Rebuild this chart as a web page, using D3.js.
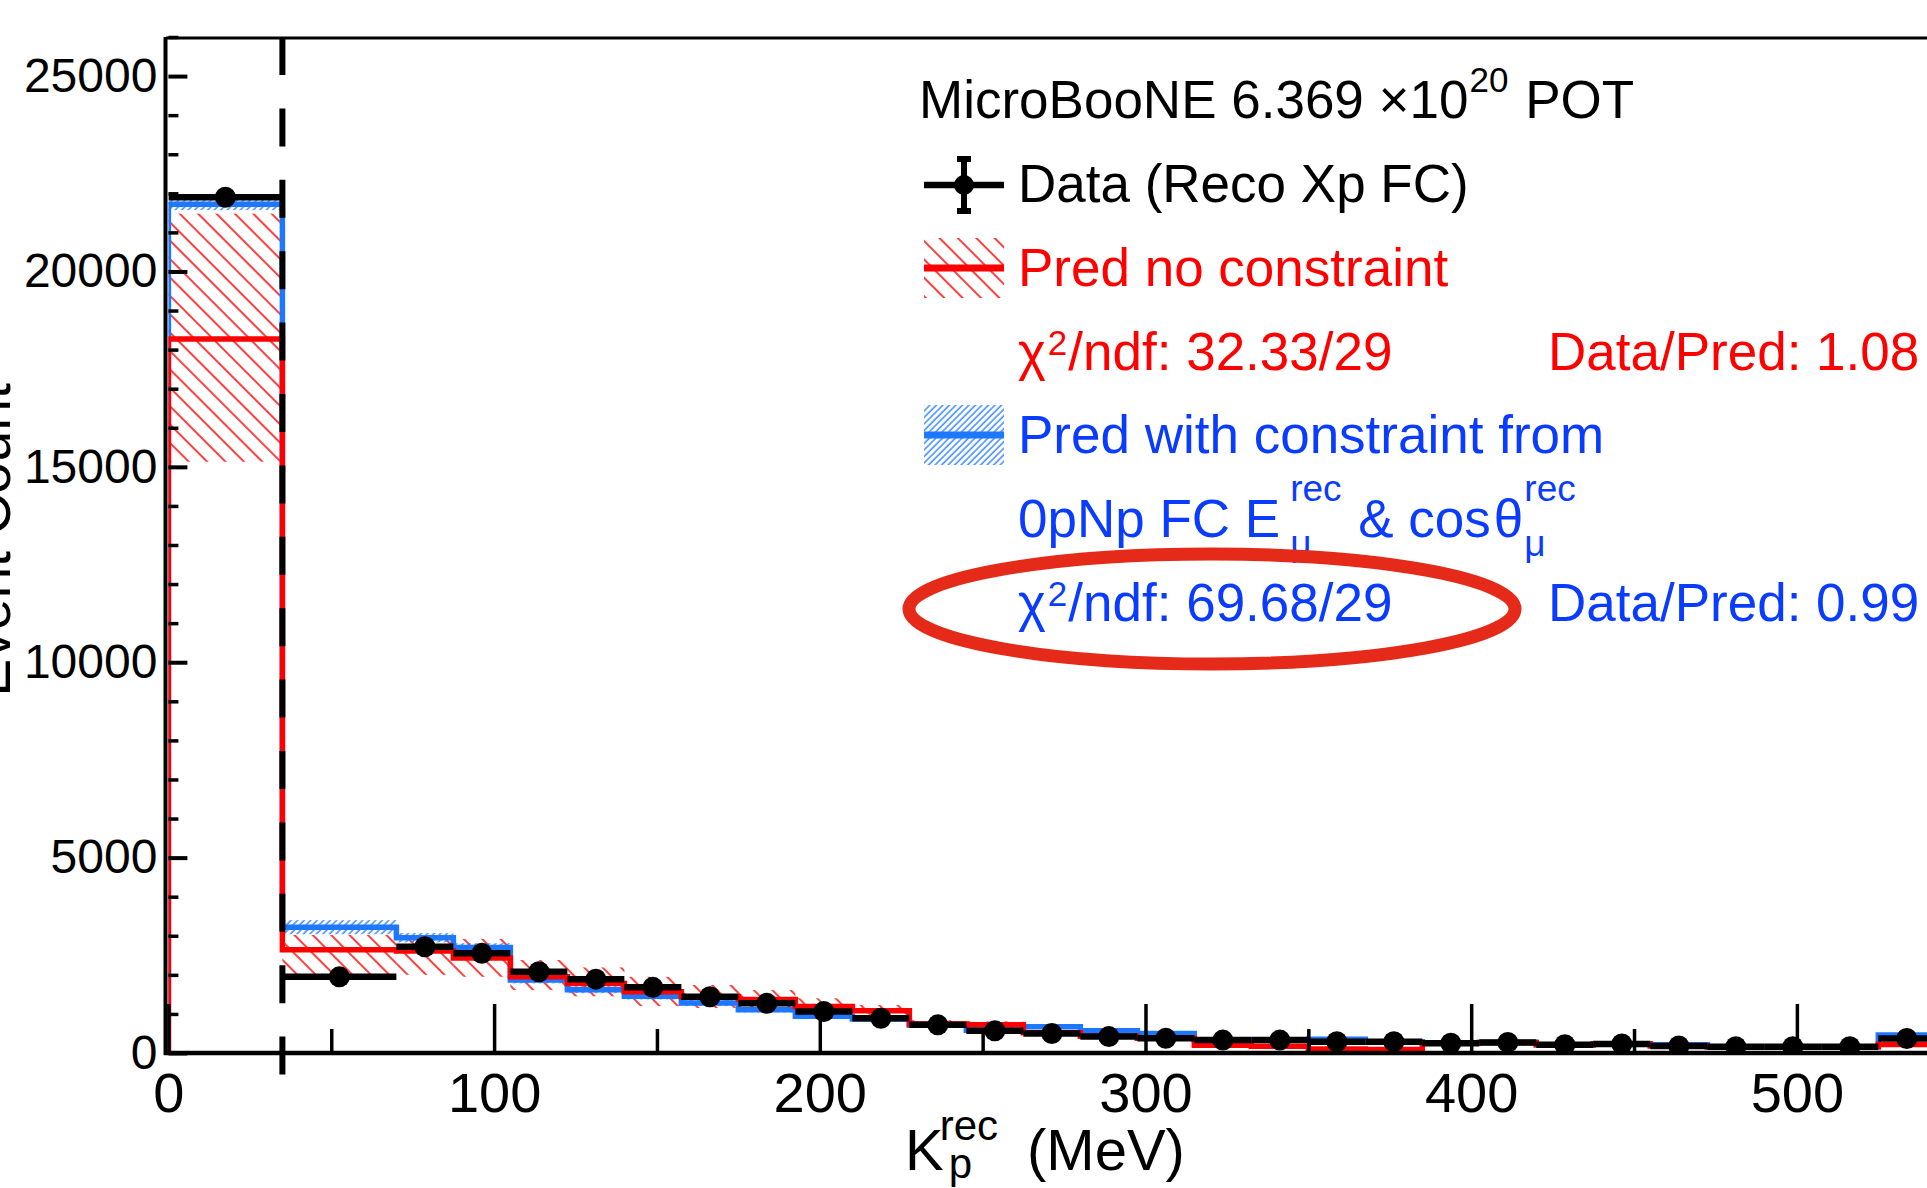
<!DOCTYPE html>
<meta charset="utf-8">
<head>
<style>
 body { margin: 0; background: #fff; }
 svg { display: block; font-family: "Liberation Sans", Arial, Helvetica, sans-serif; }
 text { white-space: pre; }
</style>
</head>
<body>
<script src="https://d3js.org/d3.v7.min.js"></script>
<script>
 // K_p^rec bins (MeV), 29 bins
 const binEdges = [0, 35, 70, 87.5, 105, 122.5, 140, 157.5, 175, 192.5, 210, 227.5, 245, 262.5,
                   280, 297.5, 315, 332.5, 350, 367.5, 385, 402.5, 420, 437.5, 455, 472.5, 490,
                   507.5, 525, 542.5];

 // data (Reco Xp FC)
 const dataCounts = [21900, 1950, 2720, 2550, 2080, 1890, 1680, 1440, 1270, 1060, 890, 720, 570,
                     500, 420, 375, 330, 330, 290, 290, 250, 270, 210, 230, 180, 160, 160, 160, 370];

 // prediction, no constraint (red) and its error band
 const predNoCons   = [18270, 2640, 2610, 2430, 1950, 1780, 1570, 1440, 1370, 1190, 1080, 740, 720,
                       520, 430, 380, 200, 170, 100, 90, 250, 270, 210, 230, 180, 160, 160, 160, 220];
 const predNoConsLo = [15130, 1950, 2000, 1950, 1610, 1450, 1200, 1150, 1130, 980, 930, 640, 630,
                       450, 370, 330, 160, 135, 75, 65, 220, 240, 185, 205, 155, 135, 135, 135, 180];
 const predNoConsHi = [21480, 3020, 2960, 2920, 2380, 2190, 1950, 1740, 1610, 1400, 1230, 840, 810,
                       590, 490, 430, 240, 205, 125, 115, 280, 300, 235, 255, 205, 185, 185, 185, 260];

 // prediction with constraint (blue) and its error
 const predCons    = [21720, 3220, 2950, 2700, 1870, 1620, 1450, 1280, 1110, 940, 870, 710, 580,
                      670, 570, 500, 330, 330, 350, 290, 250, 270, 210, 230, 210, 160, 160, 160, 460];
 const predConsErr = [150, 180, 120, 110, 90, 90, 80, 80, 70, 60, 50, 45, 40, 40, 35, 30, 25, 25,
                      25, 20, 15, 15, 15, 15, 15, 15, 15, 15, 30];

 const xMajor = [0, 100, 200, 300, 400, 500];
 const xMinor = [50, 150, 250, 350, 450];
 const yMajor = [0, 5000, 10000, 15000, 20000, 25000];
 const cutLine = 35;

 const RED = "#ff0000", BLUE = "#1e78ff", BLUE_TXT = "#0a3cff";

 const W = 1927, H = 1188;
 const x = d3.scaleLinear().domain([0, 542.5]).range([168.4, 1935.3]);
 const y = d3.scaleLinear().domain([0, 26000]).range([1053, 37]);

 const svg = d3.select("body").append("svg").attr("width", W).attr("height", H);
 const defs = svg.append("defs");

 defs.append("pattern").attr("id", "hatchRed").attr("patternUnits", "userSpaceOnUse")
     .attr("width", 13).attr("height", 13).attr("patternTransform", "rotate(-45)")
     .append("line").attr("x1", 2).attr("y1", 0).attr("x2", 2).attr("y2", 13)
     .attr("stroke", RED).attr("stroke-width", 1.5);
 defs.append("pattern").attr("id", "hatchBlue").attr("patternUnits", "userSpaceOnUse")
     .attr("width", 4.6).attr("height", 4.6).attr("patternTransform", "rotate(45)")
     .append("line").attr("x1", 1).attr("y1", 0).attr("x2", 1).attr("y2", 4.6)
     .attr("stroke", BLUE).attr("stroke-width", 1.3);
 defs.append("clipPath").attr("id", "frame")
     .append("rect").attr("x", x(0)).attr("y", y(26000))
     .attr("width", x(542.5) - x(0)).attr("height", y(0) - y(26000));

 const bins = binEdges.slice(0, -1).map((lo, i) => ({ lo: lo, hi: binEdges[i + 1], i: i }));

 function stepPoints(vals) {
     const pts = [[binEdges[0], 0]];
     vals.forEach((v, i) => { pts.push([binEdges[i], v]); pts.push([binEdges[i + 1], v]); });
     pts.push([binEdges[binEdges.length - 1], 0]);
     return pts;
 }
 const line = d3.line().x(d => x(d[0])).y(d => y(d[1]));

 // left axis line goes below the histograms
 svg.append("line").attr("x1", 165.5).attr("x2", 165.5).attr("y1", 37).attr("y2", 1055)
    .attr("stroke", "#000").attr("stroke-width", 4);

 const plot = svg.append("g").attr("clip-path", "url(#frame)");

 plot.append("g").selectAll("rect").data(bins).join("rect")
     .attr("x", d => x(d.lo)).attr("width", d => x(d.hi) - x(d.lo))
     .attr("y", d => y(predNoConsHi[d.i]))
     .attr("height", d => y(predNoConsLo[d.i]) - y(predNoConsHi[d.i]))
     .attr("fill", "url(#hatchRed)");

 plot.append("g").selectAll("rect").data(bins).join("rect")
     .attr("x", d => x(d.lo)).attr("width", d => x(d.hi) - x(d.lo))
     .attr("y", d => y(predCons[d.i] + predConsErr[d.i]))
     .attr("height", d => y(predCons[d.i] - predConsErr[d.i]) - y(predCons[d.i] + predConsErr[d.i]))
     .attr("fill", "url(#hatchBlue)");

 plot.append("path").attr("d", line(stepPoints(predCons)))
     .attr("fill", "none").attr("stroke", BLUE).attr("stroke-width", 5.5);
 plot.append("path").attr("d", line(stepPoints(predNoCons)))
     .attr("fill", "none").attr("stroke", RED).attr("stroke-width", 5.5);

 plot.append("g").selectAll("line").data(bins).join("line")
     .attr("x1", d => x(d.lo)).attr("x2", d => x(d.hi))
     .attr("y1", d => y(dataCounts[d.i])).attr("y2", d => y(dataCounts[d.i]))
     .attr("stroke", "#000").attr("stroke-width", 6.5);
 plot.append("g").selectAll("circle").data(bins).join("circle")
     .attr("cx", d => x((d.lo + d.hi) / 2)).attr("cy", d => y(dataCounts[d.i]))
     .attr("r", 10.5).attr("fill", "#000");

 // frame
 svg.append("line").attr("x1", 164).attr("x2", 1935).attr("y1", 1053).attr("y2", 1053)
    .attr("stroke", "#000").attr("stroke-width", 4.5);
 svg.append("line").attr("x1", 166).attr("x2", 1935).attr("y1", 38).attr("y2", 38)
    .attr("stroke", "#000").attr("stroke-width", 3);
 svg.append("line").attr("x1", 1935).attr("x2", 1935).attr("y1", 37).attr("y2", 1053)
    .attr("stroke", "#000").attr("stroke-width", 3);

 // y axis
 const yAx = svg.append("g").attr("transform", `translate(${x(0)},0)`)
     .call(d3.axisLeft(y).tickValues(yMajor).tickSize(-19).tickPadding(11).tickFormat(d3.format("d")));
 yAx.select(".domain").remove();
 yAx.selectAll("line").attr("stroke-width", 4);
 yAx.selectAll("text").attr("font-size", 48).attr("font-family", null).attr("fill", "#000");
 const yMin = svg.append("g").attr("transform", `translate(${x(0)},0)`)
     .call(d3.axisLeft(y).tickValues(d3.range(0, 26001, 1000).filter(v => v % 5000)).tickSize(-10).tickFormat(""));
 yMin.select(".domain").remove();
 yMin.selectAll("line").attr("stroke-width", 3.5);

 // x axis
 const xAx = svg.append("g").attr("transform", `translate(0,${y(0)})`)
     .call(d3.axisBottom(x).tickValues(xMajor).tickSize(-49).tickPadding(19));
 xAx.select(".domain").remove();
 xAx.selectAll("line").attr("stroke-width", 3.5);
 xAx.selectAll("text").attr("font-size", 56).attr("font-family", null).attr("fill", "#000");
 const xMin = svg.append("g").attr("transform", `translate(0,${y(0)})`)
     .call(d3.axisBottom(x).tickValues(xMinor).tickSize(-24).tickFormat(""));
 xMin.select(".domain").remove();
 xMin.selectAll("line").attr("stroke-width", 3.5);

 // 35 MeV cut line
 svg.append("line").attr("x1", x(cutLine)).attr("x2", x(cutLine)).attr("y1", 37).attr("y2", 1078)
    .attr("stroke", "#000").attr("stroke-width", 6).attr("stroke-dasharray", "38 33.4");

 // text with super/subscripts
 function rich(g, x0, y0, pieces, color) {
     let cx = x0, stackStart = x0, stackEnd = x0;
     pieces.forEach(p => {
         const start = p.stack ? stackStart + (p.gap || 0) : cx + (p.gap || 0);
         const t = g.append("text").attr("x", start).attr("y", y0 + (p.dy || 0))
                    .attr("font-size", p.fs).attr("fill", color).text(p.t);
         const w = t.node().getComputedTextLength();
         if (!p.stack) { stackStart = start; stackEnd = start + w; }
         else { stackEnd = Math.max(stackEnd, start + w); }
         cx = stackEnd;
     });
 }

 const leg = svg.append("g");
 const rowY = [118, 202, 286, 370, 453, 537, 621];
 const tx = 1018, tx2 = 1548;

 rich(leg, 919, rowY[0], [{ t: "MicroBooNE 6.369 ×10", fs: 53 },
                          { t: "20", fs: 35, dy: -26, gap: 1 },
                          { t: " POT", fs: 53, gap: 2 }], "#000");
 rich(leg, tx, rowY[1], [{ t: "Data (Reco Xp FC)", fs: 53 }], "#000");
 rich(leg, tx, rowY[2], [{ t: "Pred no constraint", fs: 53 }], RED);
 rich(leg, tx, rowY[3], [{ t: "χ", fs: 53 }, { t: "2", fs: 35, dy: -15, gap: 2 },
                         { t: "/ndf: 32.33/29", fs: 53, gap: 1 }], RED);
 rich(leg, tx2, rowY[3], [{ t: "Data/Pred: 1.08", fs: 53 }], RED);
 rich(leg, tx, rowY[4], [{ t: "Pred with constraint from", fs: 53 }], BLUE_TXT);
 rich(leg, tx, rowY[5], [{ t: "0pNp FC E", fs: 53 },
                         { t: "rec", fs: 37, dy: -36, gap: 10 },
                         { t: "μ", fs: 37, dy: 19, stack: true },
                         { t: " & cos", fs: 53, gap: 2 },
                         { t: "θ", fs: 53, gap: 3 },
                         { t: "rec", fs: 37, dy: -36, gap: 1 },
                         { t: "μ", fs: 37, dy: 19, stack: true }], BLUE_TXT);
 rich(leg, tx, rowY[6], [{ t: "χ", fs: 53 }, { t: "2", fs: 35, dy: -15, gap: 2 },
                         { t: "/ndf: 69.68/29", fs: 53, gap: 1 }], BLUE_TXT);
 rich(leg, tx2, rowY[6], [{ t: "Data/Pred: 0.99", fs: 53 }], BLUE_TXT);

 // legend symbols
 const sx0 = 924, sx1 = 1004, sxm = 964;
 leg.append("line").attr("x1", sx0).attr("x2", sx1).attr("y1", 185).attr("y2", 185)
    .attr("stroke", "#000").attr("stroke-width", 6.5);
 leg.append("line").attr("x1", sxm).attr("x2", sxm).attr("y1", 157).attr("y2", 213)
    .attr("stroke", "#000").attr("stroke-width", 6);
 leg.append("rect").attr("x", sxm - 7).attr("y", 156).attr("width", 14).attr("height", 6);
 leg.append("rect").attr("x", sxm - 7).attr("y", 208).attr("width", 14).attr("height", 6);
 leg.append("circle").attr("cx", sxm).attr("cy", 185).attr("r", 10);

 leg.append("rect").attr("x", sx0).attr("y", 238).attr("width", sx1 - sx0).attr("height", 60)
    .attr("fill", "url(#hatchRed)");
 leg.append("line").attr("x1", sx0).attr("x2", sx1).attr("y1", 268).attr("y2", 268)
    .attr("stroke", RED).attr("stroke-width", 7);
 leg.append("rect").attr("x", sx0).attr("y", 405).attr("width", sx1 - sx0).attr("height", 60)
    .attr("fill", "url(#hatchBlue)");
 leg.append("line").attr("x1", sx0).attr("x2", sx1).attr("y1", 435).attr("y2", 435)
    .attr("stroke", BLUE).attr("stroke-width", 7);

 // highlight ellipse
 svg.append("ellipse").attr("cx", 1212).attr("cy", 609).attr("rx", 303).attr("ry", 55)
    .attr("fill", "none").attr("stroke", "#e62a1a").attr("stroke-width", 13);

 // axis titles
 rich(svg, 905, 1170, [{ t: "K", fs: 58 },
                       { t: "rec", fs: 42, dy: -30, gap: -4 },
                       { t: "p", fs: 42, dy: 8, stack: true, gap: 9 },
                       { t: "(MeV)", fs: 58, gap: 29 }], "#000");
 svg.append("text").attr("transform", "translate(10,540) rotate(-90)")
    .attr("text-anchor", "middle").attr("font-size", 57).text("Event Count");
</script>
</body>
